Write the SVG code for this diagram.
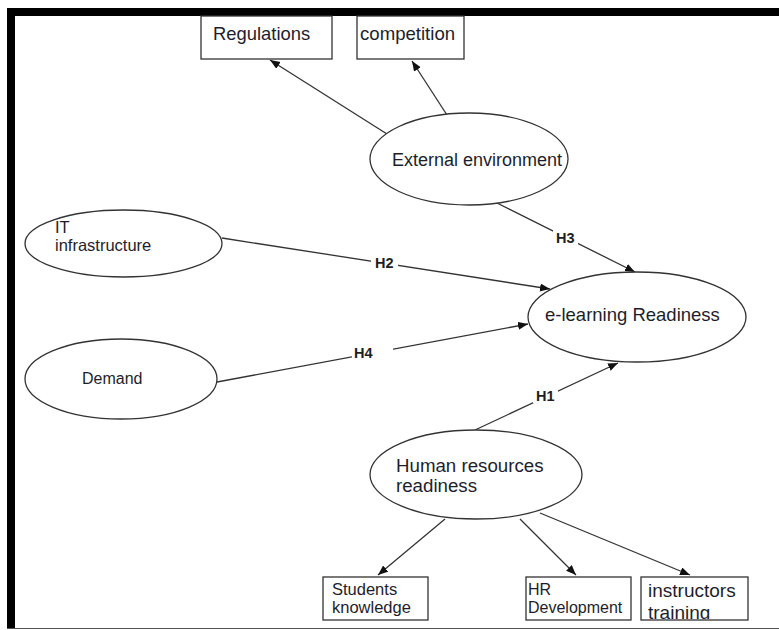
<svg xmlns="http://www.w3.org/2000/svg" width="779" height="630" viewBox="0 0 779 630">
<style>
.n{fill:#fff;stroke:#333;stroke-width:1.3}
.t{font-family:"Liberation Sans",Arial,sans-serif;fill:#1e1e2a}
.c{stroke:#333;stroke-width:1.3;fill:none;marker-end:url(#ah)}
.h{font-family:"Liberation Sans",Arial,sans-serif;font-weight:bold;font-size:14.5px;fill:#1e1e1e}
.bg{fill:#fff}
</style>
<defs>
<marker id="ah" markerUnits="userSpaceOnUse" markerWidth="11" markerHeight="9" refX="10" refY="4" orient="auto">
<path d="M0,0 L10,4 L0,8 z" fill="#111"/>
</marker>
<clipPath id="clipInst"><rect x="641" y="577" width="107" height="42"/></clipPath>
</defs>
<rect x="0" y="0" width="779" height="630" fill="#fff"/>
<g id="frame">
<rect x="7" y="8" width="772" height="8" fill="#000"/>
<rect x="7" y="8" width="8" height="621" fill="#000"/>
<line x1="7" y1="628.5" x2="779" y2="628.5" stroke="#555" stroke-width="1"/>
</g>
<g id="connectors">
<line class="c" x1="387" y1="134" x2="270" y2="60"/>
<line class="c" x1="447" y1="115" x2="412" y2="61"/>
<line class="c" x1="497" y1="203" x2="635" y2="272"/>
<line class="c" x1="222" y1="238" x2="550" y2="289"/>
<line class="c" x1="217" y1="382" x2="528" y2="324"/>
<line class="c" x1="475" y1="430" x2="618" y2="363"/>
<line class="c" x1="445" y1="519" x2="378" y2="575"/>
<line class="c" x1="520" y1="519" x2="576" y2="575"/>
<line class="c" x1="540" y1="513" x2="690" y2="575"/>
</g>
<g id="labels">
<rect class="bg" x="371" y="254" width="27" height="16"/>
<text class="h" x="375" y="268">H2</text>
<rect class="bg" x="553" y="229" width="25" height="16"/>
<text class="h" x="556" y="243">H3</text>
<rect class="bg" x="352" y="340" width="41" height="20"/>
<text class="h" x="354" y="358">H4</text>
<rect class="bg" x="533" y="386" width="25" height="17"/>
<text class="h" x="536" y="401">H1</text>
</g>
<g id="regulations">
<rect class="n" x="201" y="16" width="131" height="43"/>
<text class="t" x="213" y="40" font-size="18.4">Regulations</text>
</g>
<g id="competition">
<rect class="n" x="357" y="16" width="107" height="43"/>
<text class="t" x="360" y="40" font-size="18.6">competition</text>
</g>
<g id="external-environment">
<ellipse class="n" cx="469" cy="159" rx="99" ry="46"/>
<text class="t" x="392" y="166" font-size="18">External environment</text>
</g>
<g id="it-infrastructure">
<ellipse class="n" cx="123.5" cy="243.5" rx="98.5" ry="33.5"/>
<text class="t" x="55" y="233" font-size="16.5">IT</text>
<text class="t" x="55" y="251" font-size="16.5">infrastructure</text>
</g>
<g id="demand">
<ellipse class="n" cx="121" cy="379" rx="96" ry="40"/>
<text class="t" x="82" y="384" font-size="16">Demand</text>
</g>
<g id="e-learning-readiness">
<ellipse class="n" cx="637" cy="317" rx="109" ry="45"/>
<text class="t" x="545" y="321" font-size="18.5">e-learning Readiness</text>
</g>
<g id="human-resources">
<ellipse class="n" cx="476" cy="474.5" rx="106" ry="44.5"/>
<text class="t" x="396" y="472" font-size="18.7">Human resources</text>
<text class="t" x="396" y="492" font-size="18.7">readiness</text>
</g>
<g id="students-knowledge">
<rect class="n" x="323" y="577" width="105" height="43"/>
<text class="t" x="332" y="595" font-size="16.5">Students</text>
<text class="t" x="332" y="613" font-size="16.5">knowledge</text>
</g>
<g id="hr-development">
<rect class="n" x="526" y="577" width="105" height="43"/>
<text class="t" x="528" y="595" font-size="16">HR</text>
<text class="t" x="528" y="613" font-size="16">Development</text>
</g>
<g id="instructors-training">
<rect class="n" x="641" y="577" width="107" height="43"/>
<g clip-path="url(#clipInst)">
<text class="t" x="648" y="597" font-size="19">instructors</text>
<text class="t" x="648" y="619" font-size="19">training</text>
</g>
</g>
</svg>
